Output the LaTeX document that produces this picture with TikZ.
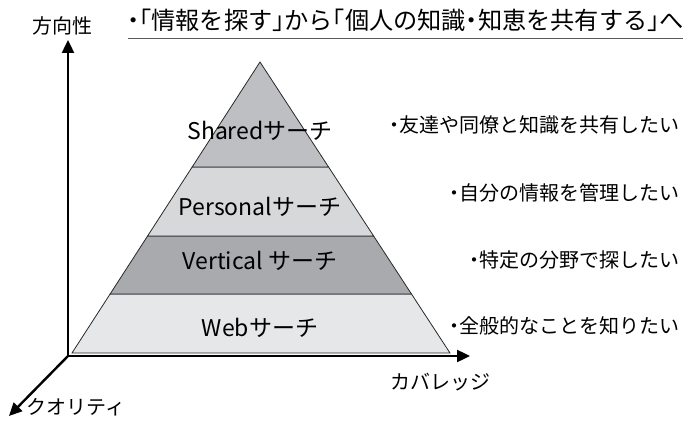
\documentclass[tikz,border=0pt]{standalone}
\usepackage{fontspec}
\setmainfont{Noto Sans CJK JP}
\newfontfamily\halfpunct[RawFeature=+halt]{Noto Sans CJK JP}
\usetikzlibrary{arrows.meta,calc}
\definecolor{cShared}{RGB}{190,191,194}
\definecolor{cPersonal}{RGB}{215,216,218}
\definecolor{cVertical}{RGB}{169,170,173}
\definecolor{cWeb}{RGB}{230,231,232}
\definecolor{cEdge}{RGB}{40,40,40}
\tikzset{
  layer/.style={draw=cEdge, line width=0.8pt, line join=miter},
  axis/.style={line width=2.4pt, -{Triangle[length=13pt,width=12pt]}},
  lvl/.style={inner sep=0pt, font=\fontsize{23}{26}\selectfont},
  need/.style={inner sep=0pt, anchor=east, font=\halfpunct\fontsize{20}{23}\selectfont},
  axlabel/.style={inner sep=0pt, font=\fontsize{20}{23}\selectfont},
  title/.style={inner sep=0pt, font=\halfpunct\fontsize{24.2}{27}\selectfont}
}
\begin{document}
\begin{tikzpicture}[x=1pt,y=-1pt]
\useasboundingbox (0,0) rectangle (683,422);
% pyramid geometry
\coordinate (apex) at (260,62);
\coordinate (bl) at (72,353);
\coordinate (br) at (450,353);
\coordinate (l1) at ($(apex)!0.3608!(bl)$);
\coordinate (r1) at ($(apex)!0.3608!(br)$);
\coordinate (l2) at ($(apex)!0.5979!(bl)$);
\coordinate (r2) at ($(apex)!0.5979!(br)$);
\coordinate (l3) at ($(apex)!0.7973!(bl)$);
\coordinate (r3) at ($(apex)!0.7973!(br)$);
\filldraw[layer, fill=cWeb] (l3) -- (r3) -- (br) -- (bl) -- cycle;
\filldraw[layer, fill=cVertical] (l2) -- (r2) -- (r3) -- (l3) -- cycle;
\filldraw[layer, fill=cPersonal] (l1) -- (r1) -- (r2) -- (l2) -- cycle;
\filldraw[layer, fill=cShared] (apex) -- (r1) -- (l1) -- cycle;
% layer labels
\node[lvl] (shared) at (260,131) {Sharedサーチ};
\node[lvl] (personal) at (260,207) {Personalサーチ};
\node[lvl] (vertical) at (260,261) {Vertical サーチ};
\node[lvl] (web) at (260,328) {Webサーチ};
% needs
\node[need] (n1) at (680,125) {・友達や同僚と知識を共有したい};
\node[need] (n2) at (680,193) {・自分の情報を管理したい};
\node[need] (n3) at (680,260) {・特定の分野で探したい};
\node[need] (n4) at (680,326) {・全般的なことを知りたい};
% axes
\coordinate (o) at (68,356);
\coordinate (ytip) at (68,40);
\coordinate (xtip) at (470,356);
\coordinate (ztip) at (9,416);
\draw[axis] (o) -- (ytip);
\draw[axis] (o) -- (xtip);
\draw[axis] ([shift={(0.8,-0.8)}]o) -- (ztip);
\node[axlabel] (yl) at (62,26) {方向性};
\node[axlabel] (xl) at (440,382) {カバレッジ};
\node[axlabel, anchor=west] (zl) at (26,407) {クオリティ};
% title
\node[title, anchor=east] (tt) at (684,20) {・「情報を探す」から「個人の知識・知恵を共有する」へ};
\coordinate (ul1) at (128,39);
\coordinate (ul2) at (683,39);
\draw[line width=1pt, draw=black!65] (ul1) -- (ul2);
\end{tikzpicture}
\end{document}
